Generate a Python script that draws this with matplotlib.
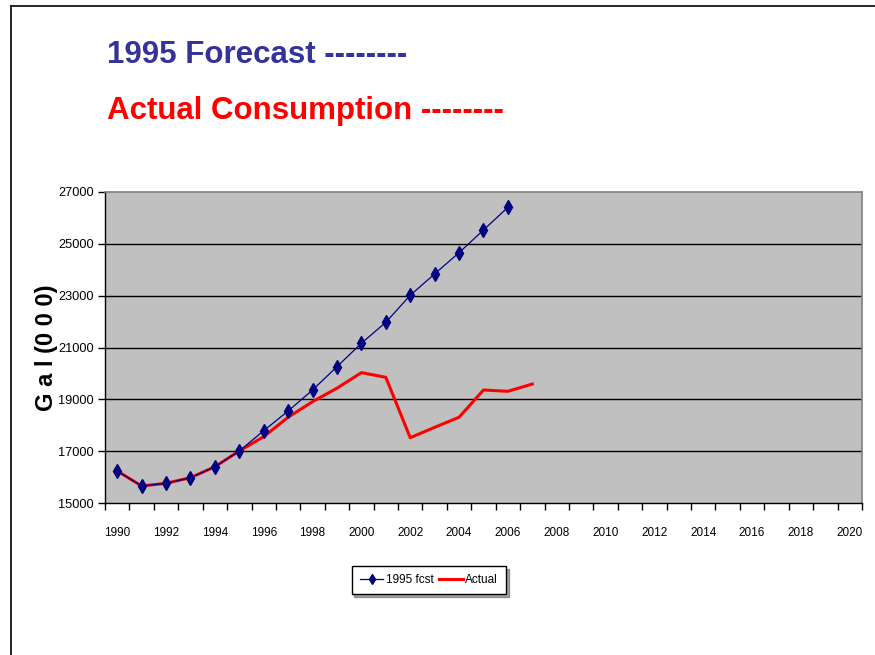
import matplotlib
matplotlib.use("Agg")
import matplotlib.pyplot as plt
from matplotlib.lines import Line2D

# ---- data ----
years = list(range(1990, 2021))
fcst_years = list(range(1990, 2007))
fcst_values = [16235, 15656, 15760, 15977, 16400, 17007, 17790, 18550, 19360,
               20260, 21163, 21973, 23015, 23840, 24660, 25535, 26410]
actual_years = list(range(1990, 2008))
actual_values = [16235, 15656, 15760, 15977, 16400, 17007, 17560, 18310, 18910,
                 19430, 20030, 19850, 17520, 17920, 18310, 19360, 19310, 19590]
y_ticks = [15000, 17000, 19000, 21000, 23000, 25000, 27000]
x_labels = [str(y) for y in years[::2]]

SANS = ["Liberation Sans", "DejaVu Sans"]

W, H = 875, 655
fig = plt.figure(figsize=(W / 100, H / 100), dpi=100)
fig.patch.set_facecolor("white")

# outer frame (left and top only, as in the reference)
fig.add_artist(Line2D([10.5 / W, 10.5 / W], [0, 1 - 5.5 / H], transform=fig.transFigure,
                      color="black", lw=1.2))
fig.add_artist(Line2D([10.5 / W, 1], [1 - 5.5 / H, 1 - 5.5 / H], transform=fig.transFigure,
                      color="black", lw=1.2))

# titles
fig.text(107 / W, 1 - 63 / H, "1995 Forecast --------", color="#333399", fontsize=22.5,
         fontweight="bold", family=SANS, va="baseline", ha="left")
fig.text(107 / W, 1 - 119.5 / H, "Actual Consumption --------", color="#FF0000", fontsize=22.5,
         fontweight="bold", family=SANS, va="baseline", ha="left")

# axes
left, right, top, bottom = 105, 862, 192, 503
ax = fig.add_axes([left / W, 1 - bottom / H, (right - left) / W, (bottom - top) / H])
ax.set_facecolor("#C0C0C0")

idx = {y: i for i, y in enumerate(years)}
fx = [idx[y] for y in fcst_years]
axx = [idx[y] for y in actual_years]

for v in y_ticks[1:-1]:
    ax.axhline(v, color="black", lw=1.0, zorder=1)

ax.plot(fx, fcst_values, color="#000080", lw=0.9, marker="d", markersize=7,
        markerfacecolor="#000080", markeredgecolor="#000080", zorder=3, label="1995 fcst")
ax.plot(axx, actual_values, color="#FF0000", lw=2.2, zorder=2, label="Actual")

ax.set_xlim(-0.5, len(years) - 0.5)
ax.set_ylim(15000, 27000)
ax.set_yticks(y_ticks)
ax.set_yticklabels([str(v) for v in y_ticks], fontsize=9.2, family=SANS)

ax.set_xticks([i - 0.5 for i in range(len(years) + 1)])
ax.set_xticklabels([])
ax.set_xticks(list(range(0, len(years), 2)), minor=True)
ax.set_xticklabels(x_labels, minor=True, fontsize=8.5, family=SANS)
ax.tick_params(axis="x", which="major", direction="out", length=5, width=1, color="black")
ax.tick_params(axis="x", which="minor", length=0, pad=17)
ax.tick_params(axis="y", direction="out", length=5, width=1, color="black", pad=3)

for s in ["top", "right"]:
    ax.spines[s].set_color("#808080")
    ax.spines[s].set_linewidth(1.2)
for s in ["left", "bottom"]:
    ax.spines[s].set_color("black")
    ax.spines[s].set_linewidth(1.0)

fig.text(46 / W, 1 - 348 / H, "G a l (0 0 0)", rotation=90, fontsize=17, fontweight="bold",
         va="center", ha="center", family=SANS)

h, l = ax.get_legend_handles_labels()
leg = fig.legend(h, l, loc="center", bbox_to_anchor=(429 / W, 1 - 580 / H),
                 ncol=2, frameon=True, fancybox=False, shadow=True,
                 prop=dict(size=8.5, family=SANS), handlelength=2.0,
                 handletextpad=0.2, columnspacing=0.5, borderpad=0.7, markerscale=0.8)
leg.get_frame().set_edgecolor("black")
leg.get_frame().set_linewidth(1.0)

fig.savefig("out.png", dpi=100, facecolor="white")
